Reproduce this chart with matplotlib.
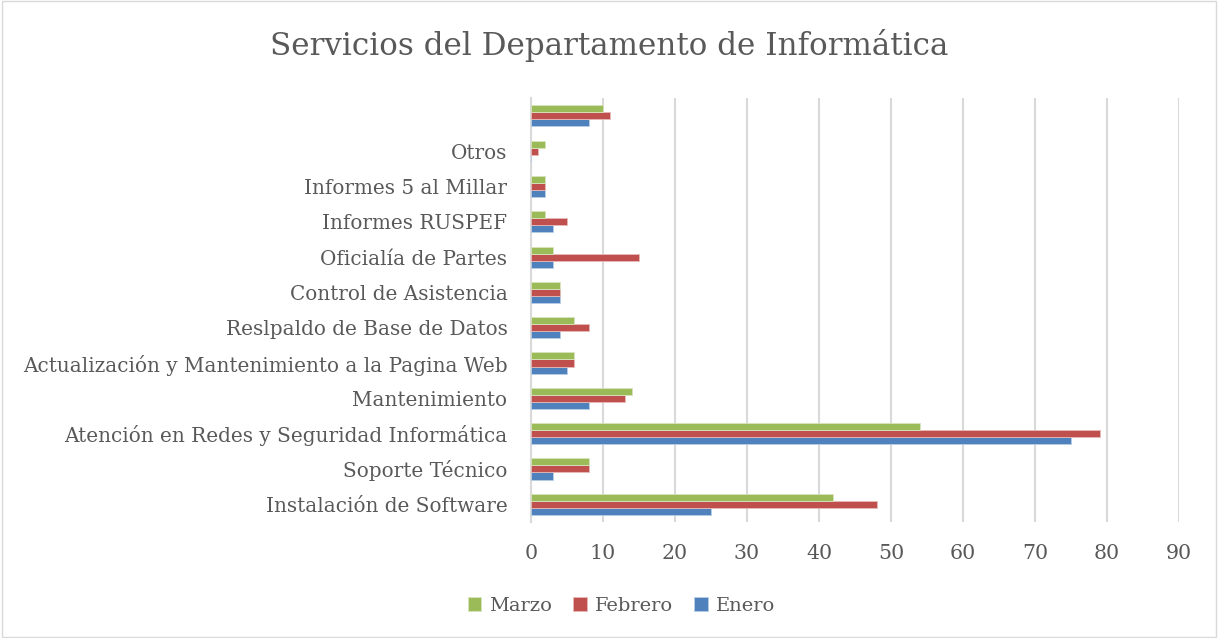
import numpy as np
import matplotlib.pyplot as plt
from matplotlib.patches import Rectangle

categorias = ['Instalación de Software', 'Soporte Técnico',
              'Atención en Redes y Seguridad Informática', 'Mantenimiento',
              'Actualización y Mantenimiento a la Pagina Web',
              'Reslpaldo de Base de Datos', 'Control de Asistencia',
              'Oficialía de Partes', 'Informes RUSPEF', 'Informes 5 al Millar',
              'Otros', '']
enero = [25, 3, 75, 8, 5, 4, 4, 3, 3, 2, 0, 8]
febrero = [48, 8, 79, 13, 6, 8, 4, 15, 5, 2, 1, 11]
marzo = [42, 8, 54, 14, 6, 6, 4, 3, 2, 2, 2, 10]
xticks = [0, 10, 20, 30, 40, 50, 60, 70, 80, 90]

gris = '#595959'
plt.rcParams['font.family'] = ['DejaVu Serif']

fig = plt.figure(figsize=(12.18, 6.38), dpi=100)
ax = fig.add_axes([0.436, 0.182, 0.532, 0.664])

y = np.arange(len(categorias))
h = 0.2
ax.barh(y - h, enero, height=h, color='#4F81BD', edgecolor='#B9CDE5', linewidth=0.6, label='Enero', zorder=3)
ax.barh(y, febrero, height=h, color='#C0504D', edgecolor='#E6B9B8', linewidth=0.6, label='Febrero', zorder=3)
ax.barh(y + h, marzo, height=h, color='#9BBB59', edgecolor='#D7E4BD', linewidth=0.6, label='Marzo', zorder=3)

ax.set_xlim(0, 90)
ax.set_ylim(-0.5, len(categorias) - 0.5)
ax.set_xticks(xticks)
ax.set_yticks(y)
ax.set_yticklabels(categorias)
ax.tick_params(axis='both', length=0, colors=gris)
ax.tick_params(axis='x', pad=16, labelsize=14.8)
ax.tick_params(axis='y', pad=17, labelsize=14.4)
ax.grid(axis='x', color='#D9D9D9', linewidth=1.5, zorder=0)
for s in ['top', 'right', 'bottom']:
    ax.spines[s].set_visible(False)
ax.spines['left'].set_color('#D9D9D9')
ax.spines['left'].set_linewidth(1.5)

fig.suptitle('Servicios del Departamento de Informática', y=0.955,
             fontsize=22.3, color=gris)

handles, labels = ax.get_legend_handles_labels()
fig.legend(handles[::-1], labels[::-1], loc='center', bbox_to_anchor=(0.51, 0.05),
           ncol=3, frameon=False, fontsize=14, labelcolor=gris,
           handlelength=0.7, handleheight=0.7, handletextpad=0.4, columnspacing=1.1)

fig.patches.append(Rectangle((0.002, 0.002), 0.996, 0.996, transform=fig.transFigure,
                             fill=False, edgecolor='#D9D9D9', linewidth=1))

fig.savefig('out.png', dpi=100, facecolor='white')
